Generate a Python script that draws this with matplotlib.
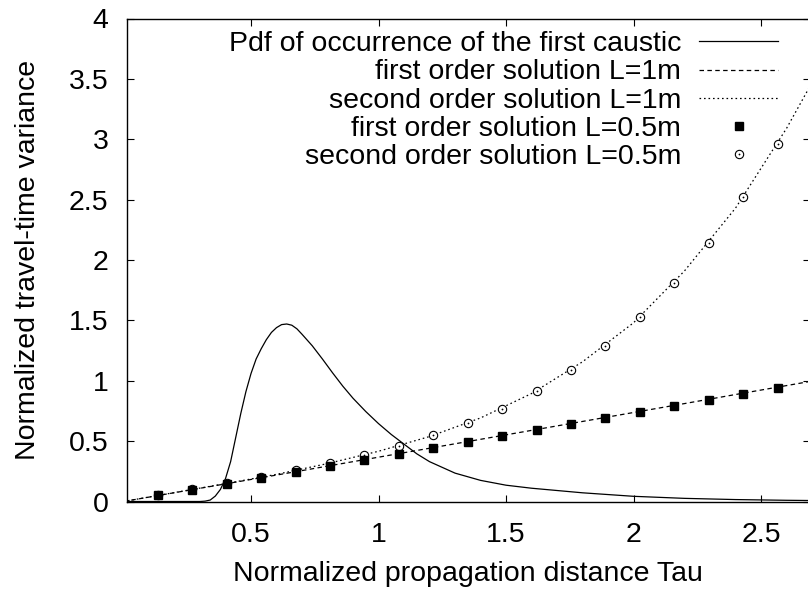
import matplotlib
matplotlib.use('Agg')
import matplotlib.pyplot as plt
from matplotlib.ticker import FuncFormatter

plt.rcParams['font.family'] = ['Liberation Sans', 'DejaVu Sans']

# %% Data
tau_curve       = [0.0, 0.2, 0.4, 0.6, 0.8, 1.0, 1.2, 1.4, 1.6, 1.8, 2.0, 2.2, 2.4, 2.6, 2.8]
first_order_1m  = [0.0, 0.073, 0.146, 0.219, 0.293, 0.367, 0.441, 0.515, 0.589, 0.663,
                   0.737, 0.811, 0.886, 0.960, 1.034]
second_order_1m = [0.0, 0.074, 0.148, 0.225, 0.314, 0.416, 0.538, 0.692, 0.894, 1.157,
                   1.48, 1.91, 2.43, 3.09, 3.85]

tau_pts          = [0.135, 0.27, 0.405, 0.54, 0.675, 0.81, 0.945, 1.08, 1.215, 1.35,
                    1.485, 1.62, 1.755, 1.89, 2.025, 2.16, 2.295, 2.43, 2.565]
first_order_05m  = [0.050, 0.099, 0.149, 0.198, 0.248, 0.297, 0.347, 0.396, 0.446, 0.495,
                    0.545, 0.594, 0.644, 0.693, 0.743, 0.792, 0.842, 0.891, 0.941]
second_order_05m = [0.050, 0.100, 0.150, 0.200, 0.260, 0.318, 0.388, 0.456, 0.548, 0.647,
                    0.769, 0.915, 1.087, 1.289, 1.53, 1.81, 2.14, 2.52, 2.96]

tau_pdf     = [0.0, 0.30, 0.32, 0.34, 0.36, 0.38, 0.40, 0.42, 0.44, 0.46, 0.48, 0.50,
               0.52, 0.54, 0.56, 0.58, 0.60, 0.62, 0.64, 0.66, 0.68, 0.70, 0.74, 0.78,
               0.82, 0.86, 0.90, 0.95, 1.0, 1.05, 1.10, 1.15, 1.2, 1.3, 1.4, 1.5, 1.6,
               1.8, 2.0, 2.2, 2.4, 2.6, 2.8]
pdf_caustic = [0.0, 0.0, 0.003, 0.012, 0.045, 0.10, 0.19, 0.33, 0.53, 0.73, 0.91, 1.06,
               1.18, 1.265, 1.34, 1.40, 1.44, 1.465, 1.47, 1.46, 1.43, 1.385, 1.29, 1.18,
               1.065, 0.955, 0.855, 0.745, 0.645, 0.555, 0.475, 0.395, 0.33, 0.235,
               0.175, 0.135, 0.11, 0.072, 0.043, 0.026, 0.016, 0.010, 0.006]

labels = ['Pdf of occurrence of the first caustic',
          'first order solution L=1m',
          'second order solution L=1m',
          'first order solution L=0.5m',
          'second order solution L=0.5m']

x_ticks = [0.5, 1, 1.5, 2, 2.5]
y_ticks = [0, 0.5, 1, 1.5, 2, 2.5, 3, 3.5, 4]

FS = 20.5

# %% Figure
fig = plt.figure(figsize=(8.08, 5.92), dpi=100)
ax = fig.add_axes([126.7 / 808, 1 - 501.5 / 592, (810 - 126.7) / 808, 483 / 592])

lw = 0.9
h_pdf, = ax.plot(tau_pdf, pdf_caustic, color='black', lw=lw)
h_f1, = ax.plot(tau_curve, first_order_1m, color='black', lw=lw, dashes=(3.6, 2.7))
h_s1, = ax.plot(tau_curve, second_order_1m, color='black', lw=lw, dashes=(1.3, 2.3))
h_c, = ax.plot(tau_pts, second_order_05m, ls='none', marker='o', ms=6,
               mfc='white', mec='black', mew=0.8)
h_cd, = ax.plot(tau_pts, second_order_05m, ls='none', marker='o', ms=1.3,
                mfc='black', mec='black', mew=0)
h_sq, = ax.plot(tau_pts, first_order_05m, ls='none', marker='s', ms=6,
                mfc='black', mec='black')

ax.set_xlim(0.0125, 2.692)
ax.set_ylim(0, 4)
ax.set_xticks(x_ticks)
ax.set_yticks(y_ticks)
fmt = FuncFormatter(lambda v, p: f'{v:g}')
ax.xaxis.set_major_formatter(fmt)
ax.yaxis.set_major_formatter(fmt)
ax.tick_params(direction='in', length=4.8, width=0.8, labelsize=FS,
               top=True, right=True)
ax.tick_params(axis='y', pad=13)
ax.tick_params(axis='x', pad=15)
for s in ax.spines.values():
    s.set_linewidth(1.0)

ax.set_xlabel('Normalized propagation distance Tau', fontsize=FS, labelpad=9)
ax.set_ylabel('Normalized travel-time variance', fontsize=FS)
ax.yaxis.set_label_coords((41 - 126.7) / 683.3, 0.5)

ax.legend([h_pdf, h_f1, h_s1, h_sq, (h_c, h_cd)], labels,
          loc='upper right', bbox_to_anchor=(0.9527, 0.9737),
          frameon=False, markerfirst=False, fontsize=FS,
          handlelength=2.75, handletextpad=0.64, labelspacing=0.08,
          borderpad=0, borderaxespad=0)

fig.savefig('out.png', dpi=100)
